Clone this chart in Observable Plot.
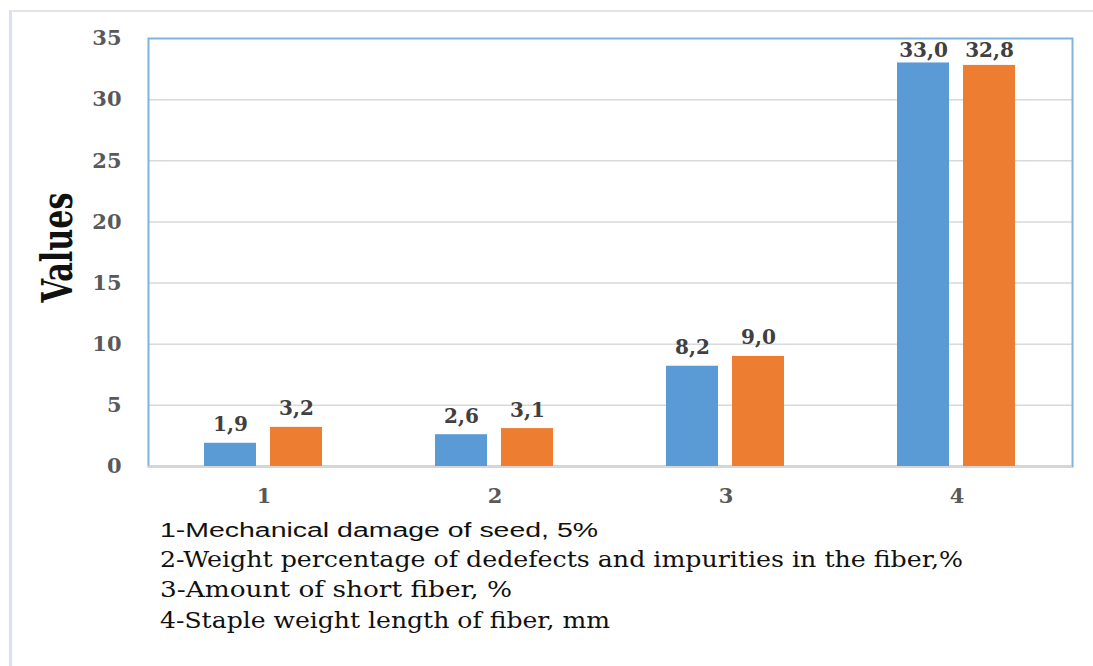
<!DOCTYPE html>
<html>
<head>
<meta charset="utf-8">
<script src="https://cdn.jsdelivr.net/npm/d3@7"></script>
<script src="https://cdn.jsdelivr.net/npm/@observablehq/plot@0.6"></script>
<style>
  html, body { margin: 0; padding: 0; background: #fff; }
  #wrap { position: relative; width: 1093px; height: 666px; overflow: hidden; background: #fff; }
  #chart { position: absolute; left: 0; top: 0; }
  #caption { position: absolute; left: 0; top: 520px; }
  #deco { position: absolute; left: 9px; top: 10px; width: 1084px; height: 656px;
          border-left: 3px solid #d9e2f1; border-top: 2px solid #e4e4e4; pointer-events: none; box-sizing: border-box; }
</style>
</head>
<body>
<div id="wrap">
  <div id="chart"></div>
  <svg id="caption" width="1093" height="146"></svg>
  <div id="deco"></div>
</div>
<script>
// ---- data ----
const categories = [1, 2, 3, 4];
const seriesA = [1.9, 2.6, 8.2, 33.0];
const seriesB = [3.2, 3.1, 9.0, 32.8];
const labelsA = ["1,9", "2,6", "8,2", "33,0"];
const labelsB = ["3,2", "3,1", "9,0", "32,8"];
const yTicks = [0, 5, 10, 15, 20, 25, 30, 35];
const yLabel = "Values";
const captionLines = [
  "1-Mechanical damage of seed, 5%",
  "2-Weight percentage of dedefects and impurities in the fiber,%",
  "3-Amount of short fiber, %",
  "4-Staple weight length of fiber, mm"
];

const rowsA = categories.map((c, i) => ({cat: c, v: seriesA[i], label: labelsA[i]}));
const rowsB = categories.map((c, i) => ({cat: c, v: seriesB[i], label: labelsB[i]}));
const yMax = yTicks[yTicks.length - 1];
const nearTop = d => d.v > yMax - 3;

const labelStyle = {fill: "#404040", fontSize: 20, fontWeight: "bold"};

const chart = Plot.plot({
  width: 1093,
  height: 520,
  marginLeft: 148,
  marginRight: 21,
  marginTop: 38,
  marginBottom: 54,
  style: {fontFamily: "DejaVu Serif", fontSize: "21px", fontWeight: "bold", color: "#595959", background: "transparent"},
  x: {domain: categories, padding: 0, tickSize: 0, tickPadding: 22, label: null},
  y: {domain: [0, yMax], ticks: yTicks, tickSize: 0, tickPadding: 27, label: null, tickFormat: d => String(d)},
  marks: [
    Plot.ruleY(yTicks.filter(t => t > 0 && t < yMax), {stroke: "#d9d9d9", strokeWidth: 1.5}),
    Plot.frame({stroke: "#82b2e0", strokeWidth: 2}),
    Plot.ruleY([0], {stroke: "#d6d6d6", strokeWidth: 2}),
    Plot.barY(rowsA, {x: "cat", y: "v", fill: "#5b9bd5", insetLeft: 56, insetRight: 123}),
    Plot.barY(rowsB, {x: "cat", y: "v", fill: "#ed7d31", insetLeft: 122, insetRight: 57}),
    Plot.text(rowsA.filter(d => !nearTop(d)), {x: "cat", y: "v", text: "label", dx: -33.5, dy: -12, lineAnchor: "bottom", ...labelStyle}),
    Plot.text(rowsB.filter(d => !nearTop(d)), {x: "cat", y: "v", text: "label", dx: 32.5, dy: -12, lineAnchor: "bottom", ...labelStyle}),
    Plot.text(rowsA.filter(nearTop), {x: "cat", frameAnchor: "top", text: "label", dx: -33.5, dy: 4, lineAnchor: "top", ...labelStyle}),
    Plot.text(rowsB.filter(nearTop), {x: "cat", frameAnchor: "top", text: "label", dx: 32.5, dy: 4, lineAnchor: "top", ...labelStyle}),
    Plot.text([yLabel], {text: d => d, frameAnchor: "left", rotate: -90, dx: -90, dy: 0, fontSize: 42, fontWeight: "bold", fill: "#111", fontFamily: "DejaVu Serif"})
  ]
});
document.getElementById("chart").appendChild(chart);

// stretch the rotated axis title to its drawn length, centred on the reference position
d3.select(chart).selectAll("text").filter(function() { return this.textContent === yLabel; })
  .attr("textLength", 110).attr("lengthAdjust", "spacingAndGlyphs")
  .attr("text-anchor", "start").attr("x", -50);

// ---- caption below the chart ----
const capFonts = ["'Liberation Sans', Arial, sans-serif", "'DejaVu Serif', serif", "'DejaVu Serif', serif", "'DejaVu Serif', serif"];
const capSizes = [20, 22, 22, 22];
const capBaselines = [17, 47, 77, 108];
const capWidths = [438, 803, 352, 450];
const cap = d3.select("#caption");
captionLines.forEach((t, i) => {
  cap.append("text")
    .attr("x", 160).attr("y", capBaselines[i])
    .style("font-family", capFonts[i]).style("font-size", capSizes[i] + "px")
    .attr("fill", "#111")
    .attr("textLength", capWidths[i]).attr("lengthAdjust", "spacingAndGlyphs")
    .text(t);
});
</script>
</body>
</html>
